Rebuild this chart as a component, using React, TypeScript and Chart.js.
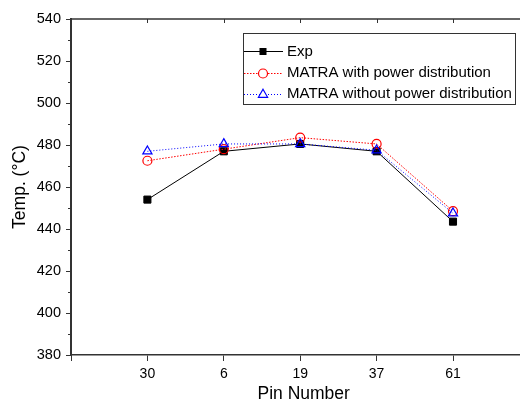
import React, { useEffect, useRef } from "react";
import { Chart, registerables } from "chart.js";

Chart.register(...registerables);

const categories = ["30", "6", "19", "37", "61"];
const expValues = [454, 477, 480.5, 477, 443.5];
const withPowerValues = [472.5, 478, 483.5, 480.5, 448.5];
const withoutPowerValues = [477, 480.5, 480.5, 477.5, 447.5];
const seriesNames = ["Exp", "MATRA with power distribution", "MATRA without power distribution"];
const xTitle = "Pin Number";
const yTitle = "Temp. (°C)";
const yTickMin = 380;
const yTickMax = 540;
const yTickStep = 20;

const FONT = "'Liberation Sans', Arial, sans-serif";
const AXIS_COLOR = "#333333";

const toPoints = (vals: number[]) => vals.map((v, i) => ({ x: i + 1, y: v }));

const framePlugin = {
  id: "frameAndLegend",
  afterDraw(chart: any) {
    const ctx = chart.ctx as CanvasRenderingContext2D;
    const { top, left, right } = chart.chartArea;
    const xs = chart.scales.x;
    const ys = chart.scales.y;
    ctx.save();
    // top frame
    ctx.strokeStyle = AXIS_COLOR;
    ctx.lineWidth = 1.5;
    ctx.beginPath();
    ctx.moveTo(left, top);
    ctx.lineTo(right, top);
    ctx.stroke();
    ctx.lineWidth = 1;
    for (let i = 1; i <= categories.length; i++) {
      const px = Math.round(xs.getPixelForValue(i)) + 0.5;
      ctx.beginPath();
      ctx.moveTo(px, top);
      ctx.lineTo(px, top + 4);
      ctx.stroke();
    }
    // minor y ticks
    for (let v = yTickMin + yTickStep / 2; v < yTickMax; v += yTickStep) {
      const py = Math.round(ys.getPixelForValue(v)) + 0.5;
      ctx.beginPath();
      ctx.moveTo(left - 3, py);
      ctx.lineTo(left, py);
      ctx.stroke();
    }
    // x axis title (centred a bit right of the plot centre, as in the reference)
    ctx.fillStyle = "#000";
    ctx.font = `17.5px ${FONT}`;
    ctx.textAlign = "center";
    ctx.textBaseline = "middle";
    ctx.fillText(xTitle, xs.getPixelForValue(3) + 3.5, 394);
    // legend
    const bx = 243, by = 33, bw = 272, bh = 71;
    ctx.strokeStyle = "#333333";
    ctx.lineWidth = 1;
    ctx.strokeRect(bx + 0.5, by + 0.5, bw, bh);
    const rows = [51, 72.5, 93.5];
    const styles = [
      { color: "#000000", dash: [] as number[], marker: "rect" },
      { color: "#ff0000", dash: [1.5, 1.5], marker: "circle" },
      { color: "#0000ff", dash: [1, 2], marker: "triangle" },
    ];
    rows.forEach((ry, i) => {
      const s = styles[i];
      ctx.strokeStyle = s.color;
      ctx.lineWidth = 1;
      ctx.setLineDash(s.dash);
      ctx.beginPath();
      ctx.moveTo(244, Math.round(ry) + 0.5);
      ctx.lineTo(283, Math.round(ry) + 0.5);
      ctx.stroke();
      ctx.setLineDash([]);
      const mx = 263, my = Math.round(ry) + 0.5;
      if (s.marker === "rect") {
        ctx.fillStyle = "#000";
        ctx.fillRect(mx - 3.5, my - 3.5, 7, 7);
      } else if (s.marker === "circle") {
        ctx.fillStyle = "#fff";
        ctx.beginPath();
        ctx.arc(mx, my, 4.5, 0, Math.PI * 2);
        ctx.fill();
        ctx.lineWidth = 1.2;
        ctx.stroke();
      } else {
        ctx.fillStyle = "#fff";
        ctx.lineWidth = 1.2;
        ctx.beginPath();
        ctx.moveTo(mx, my - 5.2);
        ctx.lineTo(mx + 4.6, my + 2.8);
        ctx.lineTo(mx - 4.6, my + 2.8);
        ctx.closePath();
        ctx.fill();
        ctx.stroke();
      }
      ctx.fillStyle = "#000";
      ctx.font = `15px ${FONT}`;
      ctx.textBaseline = "middle";
      ctx.textAlign = "left";
      ctx.fillText(seriesNames[i], 287, ry + 0.5);
    });
    ctx.restore();
  },
};

export default function App() {
  const canvasRef = useRef<HTMLCanvasElement | null>(null);

  useEffect(() => {
    const canvas = canvasRef.current;
    if (!canvas) return;
    const xMax = (520 - 71) / 76.4;
    const chart = new Chart(canvas, {
      type: "line",
      data: {
        datasets: [
          {
            label: seriesNames[0],
            data: toPoints(expValues),
            borderColor: "#000000",
            borderWidth: 1,
            pointStyle: "rect",
            pointRadius: 5,
            pointBackgroundColor: "#000000",
            pointBorderColor: "#000000",
            pointBorderWidth: 1,
            order: 2,
          },
          {
            label: seriesNames[1],
            data: toPoints(withPowerValues),
            borderColor: "#ff0000",
            borderDash: [1.5, 1.5],
            borderWidth: 1,
            pointStyle: "circle",
            pointRadius: 4.5,
            pointBackgroundColor: "rgba(255,255,255,0)",
            pointBorderColor: "#ff0000",
            pointBorderWidth: 1.2,
            order: 1,
          },
          {
            label: seriesNames[2],
            data: toPoints(withoutPowerValues),
            borderColor: "#0000ff",
            borderDash: [1, 2],
            borderWidth: 1,
            pointStyle: "triangle",
            pointRadius: 5.3,
            pointBackgroundColor: "rgba(255,255,255,0)",
            pointBorderColor: "#0000ff",
            pointBorderWidth: 1.2,
            order: 0,
          },
        ],
      },
      options: {
        animation: false,
        responsive: false,
        maintainAspectRatio: false,
        layout: { autoPadding: false, padding: { top: 19, right: 0, left: 0, bottom: 0 } },
        plugins: { legend: { display: false }, tooltip: { enabled: false } },
        scales: {
          x: {
            type: "linear",
            min: 0,
            max: xMax,
            afterBuildTicks: (scale: any) => {
              const t: any[] = [];
              for (let i = 0; i <= categories.length; i++) t.push({ value: i });
              scale.ticks = t;
            },
            afterFit: (scale: any) => {
              scale.height = 47;
              scale.paddingRight = 0;
              scale.paddingLeft = 0;
            },
            grid: {
              drawOnChartArea: false,
              drawTicks: true,
              tickLength: 6,
              color: AXIS_COLOR,
              lineWidth: 1,
            },
            border: { display: true, color: AXIS_COLOR, width: 1.5 },
            ticks: {
              includeBounds: false,
              stepSize: 1,
              autoSkip: false,
              maxRotation: 0,
              padding: 5,
              color: "#000",
              font: { family: FONT, size: 14 },
              callback: (v: any) => {
                const n = Number(v);
                return Number.isInteger(n) && n >= 1 && n <= categories.length ? categories[n - 1] : "";
              },
            },
            title: { display: false },
          },
          y: {
            min: yTickMin,
            max: yTickMax,
            afterFit: (scale: any) => {
              scale.width = 71;
            },
            grid: {
              drawOnChartArea: false,
              drawTicks: true,
              tickLength: 5,
              color: AXIS_COLOR,
              lineWidth: 1,
            },
            border: { display: true, color: AXIS_COLOR, width: 2 },
            ticks: {
              stepSize: yTickStep,
              padding: 5,
              color: "#000",
              font: { family: FONT, size: 14.5 },
            },
            title: {
              display: true,
              text: yTitle,
              color: "#000",
              font: { family: FONT, size: 17.5, lineHeight: 1.2 },
              padding: { top: 9.5, bottom: 0 },
            },
          },
        },
      },
      plugins: [framePlugin],
    });
    return () => chart.destroy();
  }, []);

  return (
    <div style={{ position: "fixed", left: 0, top: 0, width: 520, height: 402, background: "#fff" }}>
      <canvas ref={canvasRef} width={520} height={402} style={{ display: "block" }} />
    </div>
  );
}
